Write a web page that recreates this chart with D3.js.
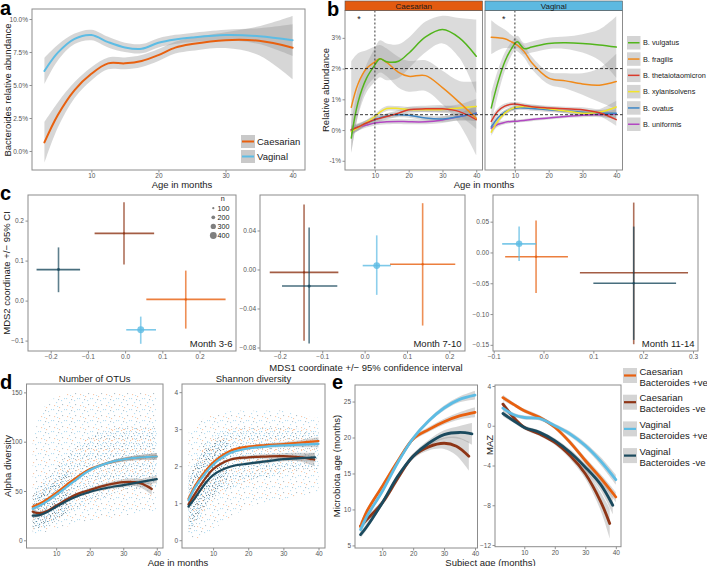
<!DOCTYPE html>
<html><head><meta charset="utf-8">
<script src="https://cdn.jsdelivr.net/npm/d3@7"></script>
<style>
body{margin:0;background:#fff}
svg{font-family:"Liberation Sans",Arial,Helvetica,sans-serif}
</style></head><body>
<svg id="fig" width="707" height="566"></svg>
<script>
// ================= DATA =================
// ---- panel a: Bacteroides relative abundance (%) by delivery mode
const aAges = [3,5,7.5,10,12.5,15,17.5,20,22.5,25,30,35,40];
const aCaesarian   = [0.65,2.73,4.62,5.85,6.64,6.64,6.82,7.27,7.83,8.1,8.4,8.35,7.83];
const aCaesarianSE = [1.55,0.95,0.6,0.5,0.45,0.45,0.45,0.45,0.45,0.5,0.6,1.1,2.4];
const aVaginal     = [6.06,7.45,8.5,8.79,8.25,7.85,7.75,8.2,8.45,8.6,8.79,8.7,8.4];
const aVaginalSE   = [1.0,0.6,0.4,0.4,0.4,0.35,0.35,0.35,0.35,0.35,0.4,0.6,1.2];
const aYTicks = [0,2.5,5,7.5,10];
const ageTicks = [10,20,30,40];
const deliveryLabels = ["Caesarian","Vaginal"];

// ---- panel b: species relative abundance (%)
const bSpecies = ["B. vulgatus","B. fragilis","B. thetaiotaomicron","B. xylanisolvens","B. ovatus","B. uniformis"];
const bCaesAges = [3,5,7.5,10,11.5,13.5,17,20,25,30,35,40];
const bCaesValues = [
  [-0.26,0.9,1.68,2.12,2.32,2.22,2.24,2.5,3.03,3.27,3.0,2.4],
  [0.74,1.5,2.0,2.22,2.32,2.2,1.88,1.75,1.77,1.38,0.9,0.38],
  [0.01,0.1,0.23,0.34,0.38,0.44,0.55,0.66,0.69,0.69,0.6,0.34],
  [-0.05,0.08,0.25,0.44,0.58,0.7,0.7,0.67,0.66,0.67,0.72,0.77],
  [0.01,0.1,0.23,0.34,0.4,0.46,0.5,0.48,0.39,0.36,0.43,0.55],
  [-0.02,0.08,0.16,0.23,0.25,0.27,0.28,0.27,0.27,0.33,0.44,0.55]
];
const bCaesSE = [
  [0.5,0.45,0.45,0.55,0.6,0.6,0.55,0.5,0.5,0.45,0.65,1.2],
  [1.5,1.0,0.6,0.5,0.45,0.45,0.5,0.5,0.5,0.55,0.7,1.2],
  [0.15,0.12,0.1,0.1,0.1,0.1,0.1,0.1,0.1,0.12,0.15,0.3],
  [0.12,0.1,0.08,0.08,0.08,0.08,0.08,0.08,0.08,0.1,0.12,0.25],
  [0.12,0.1,0.08,0.08,0.08,0.08,0.08,0.08,0.08,0.1,0.12,0.25],
  [0.12,0.1,0.08,0.08,0.08,0.08,0.08,0.08,0.08,0.1,0.12,0.25]
];
const bVagAges = [3,5,7,9,10.7,12.7,15,20,25,30,35,40];
const bVagValues = [
  [0.72,1.56,2.22,2.65,2.87,2.65,2.7,2.82,2.84,2.82,2.77,2.7],
  [3.02,3.0,2.97,2.87,2.76,2.56,2.19,1.69,1.6,1.5,1.46,1.58],
  [0.28,0.62,0.78,0.84,0.84,0.8,0.76,0.72,0.69,0.66,0.56,0.34],
  [-0.07,0.3,0.55,0.69,0.75,0.77,0.75,0.69,0.62,0.55,0.58,0.75],
  [0.1,0.4,0.58,0.68,0.72,0.72,0.7,0.66,0.62,0.58,0.55,0.55],
  [0.06,0.19,0.25,0.28,0.29,0.31,0.34,0.39,0.44,0.48,0.5,0.52]
];
const bVagSE = [
  [0.5,0.4,0.3,0.22,0.2,0.18,0.18,0.18,0.2,0.3,0.5,1.0],
  [0.55,0.4,0.3,0.22,0.2,0.2,0.2,0.2,0.25,0.35,0.55,0.9],
  [0.15,0.1,0.08,0.07,0.07,0.07,0.07,0.07,0.07,0.08,0.1,0.2],
  [0.12,0.1,0.08,0.07,0.07,0.07,0.07,0.07,0.07,0.08,0.1,0.2],
  [0.12,0.1,0.08,0.07,0.07,0.07,0.07,0.07,0.07,0.08,0.1,0.2],
  [0.1,0.08,0.06,0.05,0.05,0.05,0.05,0.05,0.05,0.06,0.08,0.15]
];
const bYTicks = [-1,0,1,2,3];
const bRefLines = [2,0.5];
const bRefAge = 10;
const bStarAges = [5.3,6.7];
const bStarY = 3.67;

// ---- panel c: MDS coordinates with 95% CI
const cGroups = ["Caesarian Bacteroides +ve","Caesarian Bacteroides -ve","Vaginal Bacteroides +ve","Vaginal Bacteroides -ve"];
const cPeriods = ["Month 3-6","Month 7-10","Month 11-14"];
const cMds1   = [[0.163,-0.003,0.042,-0.179],[0.137,-0.143,0.0286,-0.131],[-0.015,0.181,-0.049,0.181]];
const cMds1Lo = [[0.057,-0.082,0.003,-0.238],[0.060,-0.224,-0.0045,-0.195],[-0.077,0.073,-0.083,0.1]];
const cMds1Hi = [[0.27,0.078,0.083,-0.121],[0.214,-0.062,0.062,-0.0645],[0.049,0.29,-0.015,0.266]];
const cMds2   = [[0.003,0.168,-0.073,0.0775],[0.0054,-0.003,0.004,-0.017],[-0.007,-0.033,0.014,-0.05]];
const cMds2Lo = [[-0.07,0.09,-0.108,0.021],[-0.0575,-0.073,-0.026,-0.076],[-0.066,-0.149,-0.014,-0.142]];
const cMds2Hi = [[0.075,0.246,-0.04,0.133],[0.068,0.0666,0.035,0.043],[0.052,0.081,0.042,0.042]];
const cN      = [[110,100,410,150],[110,100,400,160],[120,90,380,110]];
const cSizeLegend = [100,200,300,400];
const cXTicks = [[-0.2,-0.1,0,0.1,0.2],[-0.2,-0.1,0,0.1,0.2],[-0.1,0,0.1,0.2,0.3]];
const cYTicks = [[-0.1,0,0.1,0.2],[-0.08,-0.04,0,0.04],[-0.15,-0.1,-0.05,0,0.05]];

// ---- panel d: alpha diversity (smooth fits, order = cGroups)
const dAges = [3,5,7.5,10,15,20,25,30,35,40];
const dOtuAges = [dAges,[3,5,7.5,10,15,20,25,30,35,38.5],dAges,dAges];
const dOtu = [
  [34,37,42,48,61,72,78,82,84,85],
  [29,27.5,30,35,45,51,56,59,58,52],
  [32,35,40,46,59,71,78,82,84,85],
  [25,25.5,29,34,43,49,53,56,59,62]
];
const dOtuSE = [
  [2.5,1.5,1.2,1.2,1.2,1.3,1.5,2,2.5,3.5],
  [3,2,1.5,1.5,1.5,1.8,2.2,3,4.5,6],
  [2.5,1.5,1.2,1.2,1.2,1.3,1.5,2,2.5,3.5],
  [2.5,1.5,1.2,1.2,1.2,1.4,1.8,2.2,3,4]
];
const dShAges = [dAges,[3,5,7.5,10,15,20,25,30,35,38.8],dAges,[3,5,7.5,10,15,20,25,30,35,39]];
const dShannon = [
  [1.12,1.49,1.83,2.1,2.42,2.53,2.57,2.6,2.64,2.68],
  [0.97,1.28,1.63,1.92,2.18,2.24,2.26,2.27,2.24,2.18],
  [1.08,1.44,1.77,2.04,2.36,2.48,2.53,2.56,2.58,2.6],
  [0.91,1.16,1.5,1.76,1.99,2.07,2.13,2.19,2.22,2.24]
];
const dShannonSE = [
  [0.06,0.04,0.03,0.03,0.03,0.03,0.04,0.05,0.07,0.1],
  [0.07,0.05,0.04,0.04,0.04,0.05,0.06,0.08,0.12,0.18],
  [0.06,0.04,0.03,0.03,0.03,0.03,0.04,0.05,0.07,0.1],
  [0.06,0.04,0.03,0.03,0.03,0.04,0.05,0.06,0.08,0.12]
];
// scatter cloud envelopes (individual samples shown as dot texture)
const dOtuCloudLo  = [6,7,9,12,15,20,22,25,28,30];
const dOtuCloudHi  = [100,125,140,145,150,150,150,150,150,150];
const dOtuCoreLo   = [12,14,18,22,30,38,45,50,52,55];
const dOtuCoreHi   = [50,55,65,75,92,105,112,115,115,115];
const dShCloudLo   = [0.05,0.05,0.1,0.3,0.6,0.9,1.0,1.1,1.2,1.3];
const dShCloudHi   = [2.9,3.1,3.3,3.4,3.5,3.5,3.5,3.5,3.4,3.3];
const dShCoreLo    = [0.2,0.4,0.8,1.1,1.4,1.6,1.7,1.8,1.9,1.9];
const dShCoreHi    = [1.8,2.2,2.6,2.8,3.0,3.05,3.05,3.05,3.0,2.95];
const dDenseAges   = [3,5,7.5,10,12,14];
const dOtuDenseLo  = [10,12,15,20,25,30];
const dOtuDenseHi  = [45,50,55,62,68,72];
const dShDenseLo   = [0.3,0.5,0.9,1.2,1.45,1.6];
const dShDenseHi   = [1.6,2.0,2.4,2.6,2.7,2.75];

// ---- panel e: microbiota age and MAZ (order = cGroups)
const eAges = [
  [3,5,10,15,20,25,30,35,40],
  [3,5,10,15,20,25,30,34,38],
  [3,5,10,15,20,25,30,35,40],
  [3,5,10,15,20,25,30,35,39]
];
const eMicroAge = [
  [7.6,9.7,13.2,16.7,19.8,21.1,22.2,23.0,23.5],
  [7.7,8.6,10.9,14.3,17.4,18.7,19.2,18.8,17.4],
  [7.2,9.0,12.5,16.5,19.9,22.3,24.1,25.3,25.9],
  [6.5,7.6,10.9,14.6,17.4,19.2,20.4,20.7,20.5]
];
const eMicroAgeSE = [
  [0.6,0.4,0.3,0.3,0.3,0.35,0.4,0.5,0.7],
  [0.7,0.5,0.4,0.4,0.4,0.5,0.8,1.3,2.0],
  [0.6,0.4,0.3,0.3,0.3,0.3,0.35,0.4,0.6],
  [0.5,0.4,0.3,0.3,0.35,0.45,0.6,0.9,1.5]
];
const eMazAges = [
  [3,6.5,10,15,20,25,30,35,40],
  [3,6.5,10,15,20,25,30,35,38],
  [3,6.5,10,15,20,25,30,35,40],
  [3,6.5,10,15,20,25,30,35,39]
];
const eMaz = [
  [2.83,2.15,1.5,0.85,-0.15,-1.67,-3.5,-5.25,-7.17],
  [2.17,0.83,-0.17,-0.83,-1.67,-3.0,-4.83,-7.6,-9.83],
  [1.77,1.1,0.83,0.73,0.0,-0.83,-2.0,-3.55,-5.43],
  [1.23,0.5,-0.17,-0.67,-1.5,-2.67,-4.17,-5.9,-8.0]
];
const eMazSE = [
  [0.3,0.2,0.2,0.2,0.2,0.25,0.3,0.4,0.5],
  [0.35,0.25,0.2,0.2,0.25,0.35,0.5,0.9,1.5],
  [0.3,0.2,0.2,0.2,0.2,0.25,0.3,0.4,0.5],
  [0.3,0.2,0.2,0.2,0.25,0.3,0.4,0.6,0.9]
];
const eLegendLines = [["Caesarian","Bacteroides +ve"],["Caesarian","Bacteroides -ve"],["Vaginal","Bacteroides +ve"],["Vaginal","Bacteroides -ve"]];

// ================= STYLE =================
const FONT = '"Liberation Sans", Arial, Helvetica, sans-serif';
const deliveryColors = ["#E8600F","#5DBCE4"];
const speciesColors = ["#52B51C","#F08A1A","#D93A2B","#F2E42A","#3D86C6","#B247C2"];
const groupColors = ["#E8600F","#8E3516","#5DBCE4","#1B4A5E"];
const bandFill = "#999999", bandOpacity = 0.4;

// ================= HELPERS =================
const svg = d3.select("#fig");
const defs = svg.append("defs");
let clipCount = 0;

function panel(x0, x1, y0, y1, xd, yd) {
  const x = d3.scaleLinear().domain(xd).range([x0, x1]);
  const y = d3.scaleLinear().domain(yd).range([y1, y0]);
  const id = "clip" + (clipCount++);
  defs.append("clipPath").attr("id", id).append("rect")
    .attr("x", x0).attr("y", y0).attr("width", x1 - x0).attr("height", y1 - y0);
  const g = svg.append("g");
  const inner = g.append("g").attr("clip-path", `url(#${id})`);
  return {x, y, g, inner, x0, x1, y0, y1};
}
function axes(p, xt, yt, xf, yf, showY = true) {
  const ax = p.g.append("g").attr("transform", `translate(0,${p.y1})`)
    .call(d3.axisBottom(p.x).tickValues(xt).tickFormat(xf).tickSize(2.5).tickPadding(1));
  const ay = p.g.append("g").attr("transform", `translate(${p.x0},0)`)
    .call(d3.axisLeft(p.y).tickValues(yt).tickFormat(showY ? yf : () => "").tickSize(showY ? 2.5 : 0).tickPadding(1.5));
  [ax, ay].forEach(a => {
    a.select(".domain").remove();
    a.selectAll("line").attr("stroke", "#444").attr("stroke-width", 0.6);
    a.selectAll("text").attr("fill", "#555").style("font-size", "6.5px").style("font-family", FONT);
  });
  p.g.append("rect").attr("x", p.x0).attr("y", p.y0).attr("width", p.x1 - p.x0).attr("height", p.y1 - p.y0)
    .attr("fill", "none").attr("stroke", "#8c8c8c").attr("stroke-width", 1);
}
const curve = d3.curveCatmullRom.alpha(0.5);
function smoothLine(p, xs, ys, color, w) {
  p.inner.append("path")
    .attr("d", d3.line().x((d, i) => p.x(xs[i])).y(d => p.y(d)).curve(curve)(ys))
    .attr("fill", "none").attr("stroke", color).attr("stroke-width", w).attr("stroke-linecap", "round");
}
function band(p, xs, ys, se, fill, op) {
  p.inner.append("path")
    .attr("d", d3.area().x((d, i) => p.x(xs[i])).y0((d, i) => p.y(d - se[i])).y1((d, i) => p.y(d + se[i])).curve(curve)(ys))
    .attr("fill", fill || bandFill).attr("opacity", op == null ? bandOpacity : op);
}
function envelope(p, xs, lo, hi, fill, op) {
  p.inner.append("path")
    .attr("d", d3.area().x((d, i) => p.x(xs[i])).y0((d, i) => p.y(lo[i])).y1(d => p.y(d)).curve(curve)(hi))
    .attr("fill", fill).attr("opacity", op);
}
function text(x, y, s, size, opts = {}) {
  const t = svg.append("text").attr("x", x).attr("y", y).text(s)
    .style("font-size", size + "px").style("font-family", FONT)
    .attr("fill", opts.fill || "#1a1a1a").attr("text-anchor", opts.anchor || "start");
  if (opts.weight) t.style("font-weight", opts.weight);
  if (opts.rotate) t.attr("transform", `rotate(-90,${x},${y})`);
  return t;
}
function letter(x, y, s) { text(x, y, s, 20, {weight: "bold", fill: "#000"}); }

// dot textures standing in for the individual sample clouds
const cB = "#7cc3e6", cO = "#f29a63", cG = "#6f8c9b", cD = "#2f5567";
function dotPattern(id, w, h, dots, op) {
  const pt = defs.append("pattern").attr("id", id).attr("width", w).attr("height", h).attr("patternUnits", "userSpaceOnUse");
  dots.forEach(d => pt.append("rect").attr("x", d[0]).attr("y", d[1]).attr("width", 1.1).attr("height", 1.1).attr("fill", d[2]).attr("opacity", op));
}
dotPattern("sparse", 13, 11, [[1,2,cB],[7,0,cO],[4,6,cB],[10,8,cG],[2,9,cO],[9,4,cB],[5,10,cB],[12,2,cB],[6,3,cG]], 0.55);
dotPattern("core", 9, 10, [[0,1,cB],[4,0,cO],[7,3,cG],[2,5,cB],[5,6,cD],[8,8,cB],[1,8,cG],[6,9,cO],[3,3,cB],[8,5,cB]], 0.55);
dotPattern("dense", 11, 9, [[0,0,cD],[4,1,cB],[8,0,cD],[2,3,cG],[6,2,cD],[10,3,cB],[1,6,cB],[5,5,cD],[9,6,cG],[3,8,cD],[7,7,cB],[10,8,cD],[0,4,cG],[6,4,cB]], 0.6);

// ================= PANEL a =================
const pa = panel(32, 305, 9, 170, [1.15, 41.85], [-1.44, 10.76]);
band(pa, aAges, aCaesarian, aCaesarianSE);
band(pa, aAges, aVaginal, aVaginalSE);
smoothLine(pa, aAges, aCaesarian, deliveryColors[0], 2);
smoothLine(pa, aAges, aVaginal, deliveryColors[1], 2);
axes(pa, ageTicks, aYTicks, d3.format("d"), d => d.toFixed(1) + "%");
deliveryLabels.forEach((lab, i) => {
  const yy = 135 + i * 15;
  svg.append("rect").attr("x", 241).attr("y", yy).attr("width", 14).attr("height", 13).attr("fill", "#c9c9c9");
  svg.append("line").attr("x1", 242).attr("x2", 254).attr("y1", yy + 6.5).attr("y2", yy + 6.5)
    .attr("stroke", deliveryColors[i]).attr("stroke-width", 2);
  text(257, yy + 10, lab, 9.5);
});
text(182, 188, "Age in months", 9.5, {anchor: "middle"});
text(11, 90, "Bacteroides relative abundance", 9.5, {anchor: "middle", rotate: true});
letter(0, 15, "a");

// ================= PANEL b =================
const facets = [
  {name: "Caesarian", x0: 345, x1: 482.5, ages: bCaesAges, vals: bCaesValues, se: bCaesSE, strip: "#E35B10"},
  {name: "Vaginal", x0: 485, x1: 622.5, ages: bVagAges, vals: bVagValues, se: bVagSE, strip: "#5DB9E1"}
];
facets.forEach((f, fi) => {
  const p = panel(f.x0, f.x1, 10.5, 170, [1.15, 41.85], [-1.3, 3.89]);
  f.vals.forEach((v, si) => band(p, f.ages, v, f.se[si], bandFill, 0.35));
  [5, 4, 3, 2, 1, 0].forEach(si => smoothLine(p, f.ages, f.vals[si], speciesColors[si], 1.5));
  p.inner.append("line").attr("x1", p.x(bRefAge)).attr("x2", p.x(bRefAge)).attr("y1", p.y0).attr("y2", p.y1)
    .attr("stroke", "#222").attr("stroke-width", 0.9).attr("stroke-dasharray", "2,2");
  axes(p, ageTicks, bYTicks, d3.format("d"), d => (d < 0 ? "-" + Math.abs(d) : d) + "%", fi === 0);
  svg.append("rect").attr("x", f.x0).attr("y", 1).attr("width", f.x1 - f.x0).attr("height", 9.5)
    .attr("fill", f.strip).attr("stroke", "#555").attr("stroke-width", 0.6);
  text((f.x0 + f.x1) / 2, 8.7, f.name, 8, {anchor: "middle"});
  text(p.x(bStarAges[fi]), p.y(bStarY) + 4.5, "*", 9, {anchor: "middle"});
  f.p = p;
});
bRefLines.forEach(v => {
  svg.append("line").attr("x1", 345).attr("x2", 622.5).attr("y1", facets[0].p.y(v)).attr("y2", facets[0].p.y(v))
    .attr("stroke", "#222").attr("stroke-width", 0.9).attr("stroke-dasharray", "3,2");
});
bSpecies.forEach((s, i) => {
  const yy = 36 + i * 16.3;
  svg.append("rect").attr("x", 627).attr("y", yy).attr("width", 13.5).attr("height", 13.5).attr("fill", "#d4d4d4");
  svg.append("line").attr("x1", 628).attr("x2", 639.5).attr("y1", yy + 6.75).attr("y2", yy + 6.75)
    .attr("stroke", speciesColors[i]).attr("stroke-width", 1.5);
  text(643, yy + 9.3, s, 7.3);
});
text(484, 188, "Age in months", 9.5, {anchor: "middle"});
text(328.5, 90, "Relative abundance", 9.5, {anchor: "middle", rotate: true});
letter(327, 16, "b");

// ================= PANEL c =================
const cBoxes = [
  {x0: 28, x1: 236, xd: [-0.261, 0.298], yd: [-0.126, 0.264], yf: d3.format(".1f")},
  {x0: 260, x1: 465, xd: [-0.247, 0.237], yd: [-0.0836, 0.0764], yf: d3.format(".2f")},
  {x0: 493, x1: 698, xd: [-0.1014, 0.310], yd: [-0.160, 0.0933], yf: d3.format(".2f")}
];
const rScale = d3.scaleLinear().domain([100, 400]).range([1.1, 3.4]);
cBoxes.forEach((b, k) => {
  const p = panel(b.x0, b.x1, 195, 351, b.xd, b.yd);
  cGroups.forEach((gname, i) => {
    const col = groupColors[i];
    p.inner.append("line").attr("x1", p.x(cMds1Lo[k][i])).attr("x2", p.x(cMds1Hi[k][i]))
      .attr("y1", p.y(cMds2[k][i])).attr("y2", p.y(cMds2[k][i]))
      .attr("stroke", col).attr("stroke-width", 1.6).attr("opacity", 0.8);
    p.inner.append("line").attr("x1", p.x(cMds1[k][i])).attr("x2", p.x(cMds1[k][i]))
      .attr("y1", p.y(cMds2Lo[k][i])).attr("y2", p.y(cMds2Hi[k][i]))
      .attr("stroke", col).attr("stroke-width", 1.6).attr("opacity", 0.7);
    p.inner.append("circle").attr("cx", p.x(cMds1[k][i])).attr("cy", p.y(cMds2[k][i]))
      .attr("r", rScale(cN[k][i])).attr("fill", col).attr("opacity", 0.8);
  });
  axes(p, cXTicks[k], cYTicks[k], d3.format(".1f"), b.yf);
  text(b.x1 - 3.5, 347, cPeriods[k], 9.5, {anchor: "end"});
});
text(222.7, 201, "n", 7.2, {anchor: "middle"});
cSizeLegend.forEach((n, i) => {
  const yy = 208.2 + i * 9.1;
  svg.append("circle").attr("cx", 213.3).attr("cy", yy).attr("r", rScale(n)).attr("fill", "#7f7f7f");
  text(217.5, yy + 2.6, String(n), 7.2);
});
text(366, 371, "MDS1 coordinate +/\u2212 95% confidence interval", 9.5, {anchor: "middle"});
text(9.5, 273, "MDS2 coordinate +/\u2212 95% CI", 9.5, {anchor: "middle", rotate: true});
letter(0, 200, "c");

// ================= PANEL d =================
const pd1 = panel(26.5, 163, 384, 548, [1.15, 41.85], [-7.8, 158.5]);
const pd2 = panel(182, 325, 384, 548, [1.15, 41.85], [-0.21, 4.22]);
envelope(pd1, dAges, dOtuCloudLo, dOtuCloudHi, "url(#sparse)", 1);
envelope(pd1, dAges, dOtuCoreLo, dOtuCoreHi, "url(#core)", 1);
envelope(pd1, dDenseAges, dOtuDenseLo, dOtuDenseHi, "url(#dense)", 1);
envelope(pd2, dAges, dShCloudLo, dShCloudHi, "url(#sparse)", 1);
envelope(pd2, dAges, dShCoreLo, dShCoreHi, "url(#core)", 1);
envelope(pd2, dDenseAges, dShDenseLo, dShDenseHi, "url(#dense)", 1);
[1, 3, 0, 2].forEach(i => {
  band(pd1, dOtuAges[i], dOtu[i], dOtuSE[i]);
  band(pd2, dShAges[i], dShannon[i], dShannonSE[i]);
});
[1, 3, 0, 2].forEach(i => {
  smoothLine(pd1, dOtuAges[i], dOtu[i], groupColors[i], 2.2);
  smoothLine(pd2, dShAges[i], dShannon[i], groupColors[i], 2.2);
});
axes(pd1, ageTicks, [0, 50, 100, 150], d3.format("d"), d3.format("d"));
axes(pd2, ageTicks, [0, 1, 2, 3, 4], d3.format("d"), d3.format("d"));
text(94.7, 381.5, "Number of OTUs", 9.5, {anchor: "middle"});
text(253.5, 381.5, "Shannon diversity", 9.5, {anchor: "middle"});
text(178, 565.5, "Age in months", 9.5, {anchor: "middle"});
text(11, 466, "Alpha diversity", 9.5, {anchor: "middle", rotate: true});
letter(0, 389, "d");

// ================= PANEL e =================
const pe1 = panel(355, 477.5, 385, 548, [1.2, 40.8], [4.64, 27.3]);
const pe2 = panel(495, 621, 385, 546.7, [0.4, 41.7], [-12.17, 4.1]);
[0, 1, 2, 3].forEach(i => {
  band(pe1, eAges[i], eMicroAge[i], eMicroAgeSE[i]);
  band(pe2, eMazAges[i], eMaz[i], eMazSE[i]);
});
[1, 3, 0, 2].forEach(i => {
  smoothLine(pe1, eAges[i], eMicroAge[i], groupColors[i], 2.8);
  smoothLine(pe2, eMazAges[i], eMaz[i], groupColors[i], 2.8);
});
axes(pe1, ageTicks, [5, 10, 15, 20, 25], d3.format("d"), d3.format("d"));
axes(pe2, ageTicks, [-12, -8, -4, 0, 4], d3.format("d"), d3.format("d"));
eLegendLines.forEach((ls, i) => {
  const yy = 368 + i * 26.7;
  svg.append("rect").attr("x", 623).attr("y", yy).attr("width", 14).attr("height", 15).attr("fill", "#d4d4d4");
  svg.append("line").attr("x1", 624).attr("x2", 636).attr("y1", yy + 7.5).attr("y2", yy + 7.5)
    .attr("stroke", groupColors[i]).attr("stroke-width", 2.2);
  text(639.5, yy + 6.5, ls[0], 9.5);
  text(639.5, yy + 17.5, ls[1], 9.5);
});
text(490.5, 565.5, "Subject age (months)", 9.5, {anchor: "middle"});
text(340, 466, "Microbiota age (months)", 9.5, {anchor: "middle", rotate: true});
text(492.5, 445, "MAZ", 9.5, {anchor: "middle", rotate: true});
letter(332, 389, "e");
</script>
</body></html>
